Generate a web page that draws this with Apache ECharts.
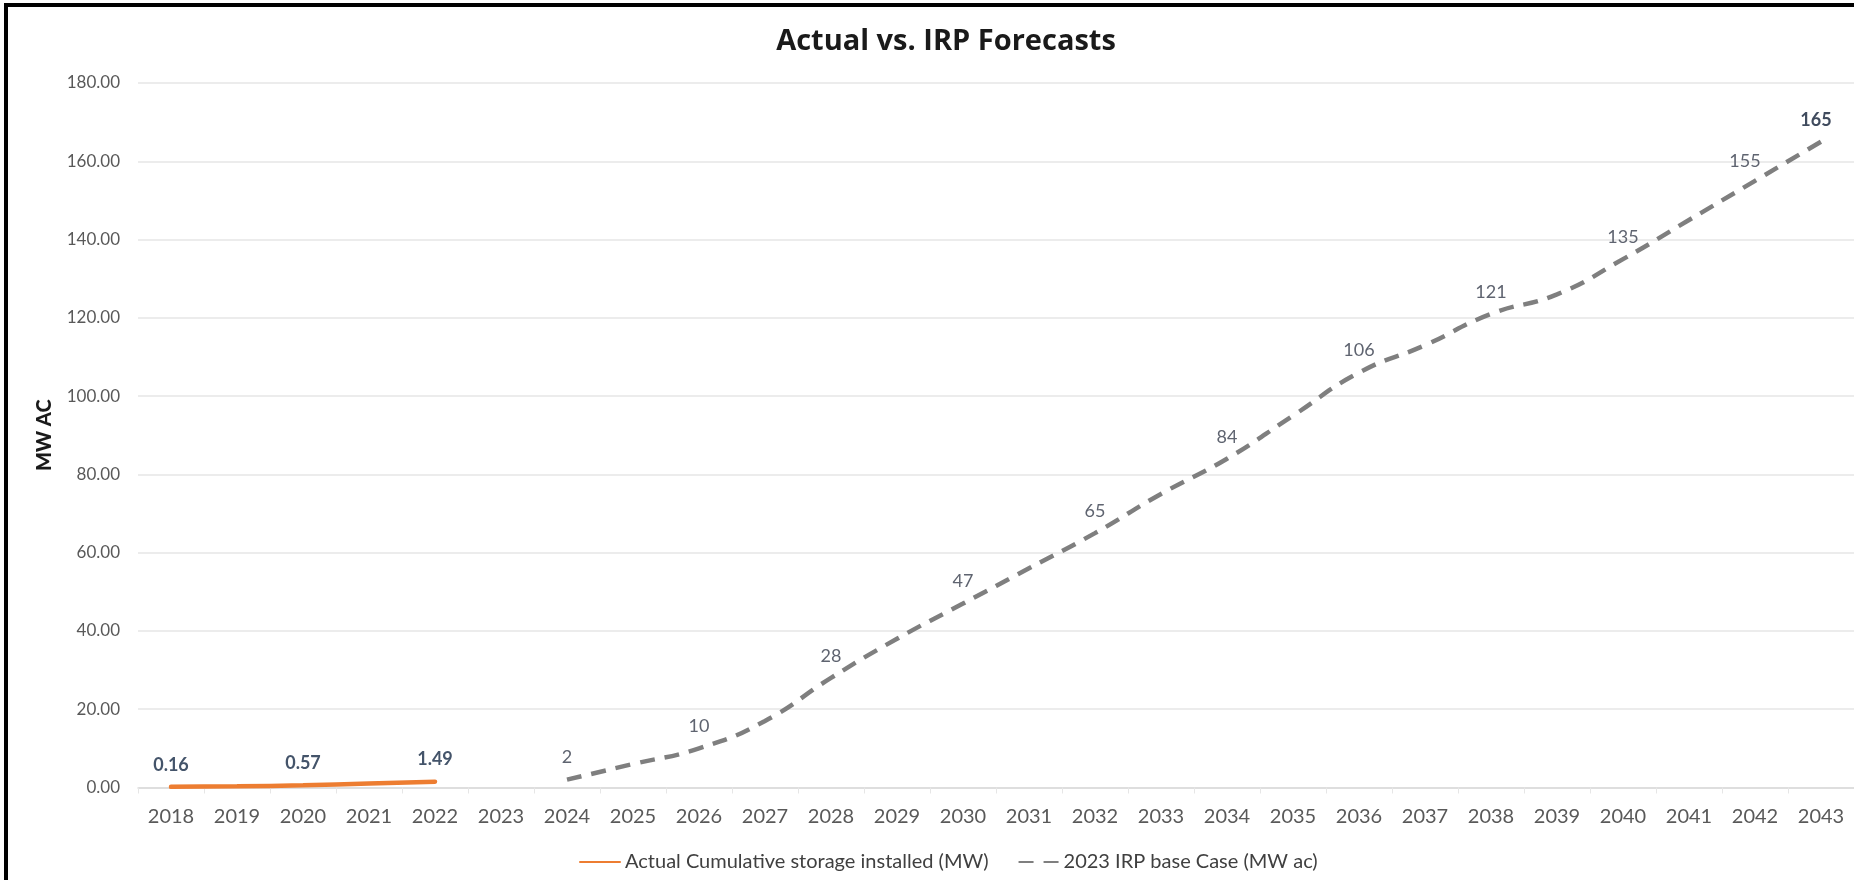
<!DOCTYPE html>
<html>
<head>
<meta charset="utf-8">
<title>Actual vs. IRP Forecasts</title>
<script src="https://cdn.jsdelivr.net/npm/echarts@6/dist/echarts.min.js"></script>
<style>
  html, body { margin: 0; padding: 0; background: #ffffff; }
  #chart { width: 1854px; height: 880px; }
</style>
</head>
<body>
<div id="chart"></div>
<script>
// Years on the category axis
const years = ['2018','2019','2020','2021','2022','2023','2024','2025','2026','2027','2028','2029','2030',
               '2031','2032','2033','2034','2035','2036','2037','2038','2039','2040','2041','2042','2043'];

// Actual cumulative storage installed (MW), 2018-2022
const actualValues = [0.16, 0.3, 0.57, 1.0, 1.49, null, null, null, null, null, null, null, null,
                      null, null, null, null, null, null, null, null, null, null, null, null, null];
// Years whose actual value is printed
const actualLabelled = ['2018', '2020', '2022'];

// 2023 IRP base case (MW ac), 2024-2043
const irpValues = [null, null, null, null, null, null, 2, 6, 10, 17, 28, 38, 47,
                   56, 65, 75, 84, 95, 106, 113, 121, 126, 135, 145, 155, 165];
// Years whose forecast value is printed
const irpLabelled = ['2024','2026','2028','2030','2032','2034','2036','2038','2040','2042','2043'];

// Value-axis ticks
const yMin = 0, yMax = 180, yStep = 20;

const FONT = 'Lato, "Open Sans", sans-serif';

const actualData = actualValues.map((v, i) => {
  if (v === null) return null;
  return { value: v, label: { show: actualLabelled.includes(years[i]) } };
});

const irpData = irpValues.map((v, i) => {
  if (v === null) return null;
  const item = { value: v, label: { show: irpLabelled.includes(years[i]) } };
  if (years[i] === '2043') {
    item.label.fontWeight = 'bold';
    item.label.color = '#404b5e';
    item.label.offset = [-5, 0];
  }
  if (years[i] === '2042') item.label.offset = [-10, 2];
  return item;
});

const chart = echarts.init(document.getElementById('chart'), null, { renderer: 'canvas' });

chart.setOption({
  backgroundColor: '#ffffff',
  animation: false,
  title: {
    text: 'Actual vs. IRP Forecasts',
    left: 941,
    top: 22,
    textAlign: 'center',
    textStyle: { fontFamily: '"Open Sans", Lato, sans-serif', fontSize: 29, fontWeight: 'bold', color: '#1a1a1a' }
  },
  grid: { left: 138, width: 1727, top: 83, bottom: 92.5, containLabel: false },
  xAxis: {
    type: 'category',
    data: years,
    boundaryGap: true,
    axisLine: { show: true, lineStyle: { color: '#d9d9d9', width: 1.5 } },
    axisTick: { show: true, length: 6, lineStyle: { color: '#e6e6e6' } },
    axisLabel: { fontFamily: FONT, fontSize: 20, color: '#595959', margin: 19, interval: 0 }
  },
  yAxis: {
    type: 'value',
    min: yMin, max: yMax, interval: yStep,
    name: 'MW AC',
    nameLocation: 'middle',
    nameRotate: 90,
    nameGap: 83,
    nameTextStyle: { fontFamily: FONT, fontSize: 20, fontWeight: 900, color: '#1a1a1a' },
    axisLine: { show: false },
    axisTick: { show: false },
    axisLabel: {
      fontFamily: FONT, fontSize: 17, color: '#595959', margin: 18,
      formatter: v => v.toFixed(2)
    },
    splitLine: { show: true, lineStyle: { color: '#e6e6e6', width: 1.5 } }
  },
  legend: {
    left: 574,
    top: 847,
    itemWidth: 40,
    itemHeight: 14,
    itemGap: 29,
    itemStyle: { opacity: 0 },
    textStyle: { fontFamily: FONT, fontSize: 20, color: '#404040' },
    data: ['Actual Cumulative storage installed (MW)', '2023 IRP base Case (MW ac)']
  },
  series: [
    {
      name: 'Actual Cumulative storage installed (MW)',
      type: 'line',
      data: actualData,
      smooth: 0.5,
      symbol: 'circle',
      symbolSize: 0,
      showSymbol: true,
      connectNulls: false,
      lineStyle: { color: '#ED7D31', width: 4.5, cap: 'round' },
      itemStyle: { color: '#ED7D31' },
      label: {
        position: 'top', distance: 13,
        fontFamily: FONT, fontSize: 18, fontWeight: 'bold', color: '#44546A'
      }
    },
    {
      name: '2023 IRP base Case (MW ac)',
      type: 'line',
      data: irpData,
      smooth: 0.5,
      symbol: 'circle',
      symbolSize: 0,
      showSymbol: true,
      connectNulls: false,
      lineStyle: { color: '#7f7f7f', width: 4.5, type: [15, 10] },
      itemStyle: { color: '#7f7f7f' },
      label: {
        position: 'top', distance: 13,
        fontFamily: FONT, fontSize: 18, color: '#5f6470'
      }
    }
  ],
  graphic: [
    {
      type: 'polyline',
      silent: true,
      shape: { points: [[6, 880], [6, 5], [1854, 5]] },
      style: { stroke: '#000000', lineWidth: 4, fill: null }
    }
  ]
});
</script>
</body>
</html>
